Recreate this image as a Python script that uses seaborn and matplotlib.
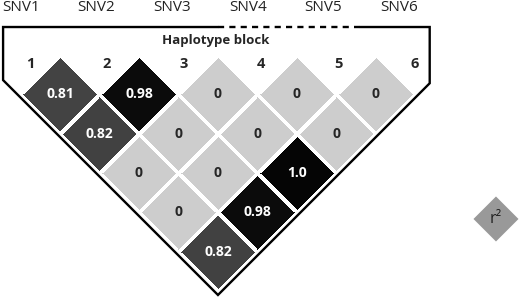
import numpy as np
import matplotlib
matplotlib.use('Agg')
import matplotlib.pyplot as plt
import matplotlib.patches as mpatches
from matplotlib.colors import LinearSegmentedColormap
from matplotlib.transforms import Affine2D
import seaborn as sns

# Data: pairwise r2 between SNVs (upper triangle, row i = SNV i+1 vs later SNVs)
snv_labels = ['SNV1', 'SNV2', 'SNV3', 'SNV4', 'SNV5', 'SNV6']
block_numbers = ['1', '2', '3', '4', '5', '6']
r2_snv1 = [0.81, 0.82, 0, 0, 0.82]
r2_snv2 = [0.98, 0, 0, 0.98]
r2_snv3 = [0, 0, 1.0]
r2_snv4 = [0, 0]
r2_snv5 = [0]
block_title = 'Haplotype block'
legend_label = 'r\u00b2'

sns.set_style('white')
plt.rcParams['font.family'] = ['Open Sans', 'DejaVu Sans']

rows = [r2_snv1, r2_snv2, r2_snv3, r2_snv4, r2_snv5]
n = len(rows)
mat = np.full((n, n), np.nan)
txt = np.full((n, n), '', dtype=object)
for i, row in enumerate(rows):
    for k, v in enumerate(row):
        mat[i, i + k] = v
        txt[i, i + k] = '0' if v == 0 else ('1.0' if v == 1 else f'{v:.2f}')
mask = np.isnan(mat)

cmap = LinearSegmentedColormap.from_list(
    'ld', [(0, '#cdcdcd'), (0.8, '#474747'), (1.0, '#050505')])

fig = plt.figure(figsize=(5.2, 2.99), dpi=100)
ax = fig.add_axes([0, 0, 1, 1])

sns.heatmap(mat, mask=mask, cmap=cmap, vmin=0, vmax=1, annot=txt, fmt='',
            cbar=False, linewidths=2, linecolor='white', ax=ax,
            annot_kws={'fontsize': 10, 'fontweight': 'bold'})

# rotate heatmap 45 degrees so the pairs form the LD triangle
rot = Affine2D(np.array([[0.5, 0.5, 0], [-0.5, 0.5, 0], [0, 0, 1]])) + ax.transData
ax.collections[0].set_transform(rot)
for t in ax.texts:
    t.set_transform(rot)

ax.set_xlim(-0.259, 6.323)
ax.set_ylim(-2.595, 1.190)
ax.axis('off')

# outline of the haplotype block
top = 0.848
vx, vy = 2.5, -2.544
left, right = -0.22, 5.18
ly = vy + (vx - left)
ry = vy + (right - vx)
ax.plot([2.5, left, left, vx, right, right, 4.30],
        [top, top, ly, vy, ry, top, top], color='black', lw=1.7,
        solid_joinstyle='miter')
ax.plot([2.5, 4.30], [top, top], color='black', lw=1.7, ls=(0, (2.6, 2.2)))

ax.text(2.475, 0.671, block_title, ha='center', va='center',
        fontsize=9.5, fontweight='bold')
for k, lab in enumerate(block_numbers):
    ax.text(0.12 + 0.975 * k, 0.38, lab, ha='center', va='center',
            fontsize=10.5, fontweight='bold')
for k, lab in enumerate(snv_labels):
    ax.text(0.006 + 0.957 * k, 1.09, lab, ha='center', va='center',
            fontsize=11, color='#222222')

# legend key
cx, cy, h = 6.019, -1.582, 0.285
ax.add_patch(mpatches.Polygon([[cx - h, cy], [cx, cy + h], [cx + h, cy], [cx, cy - h]],
                              closed=True, facecolor='#999999', edgecolor='none'))
ax.text(cx, cy, legend_label, ha='center', va='center', fontsize=11.5,
        color='#222222')

fig.savefig('out.png', dpi=100)
